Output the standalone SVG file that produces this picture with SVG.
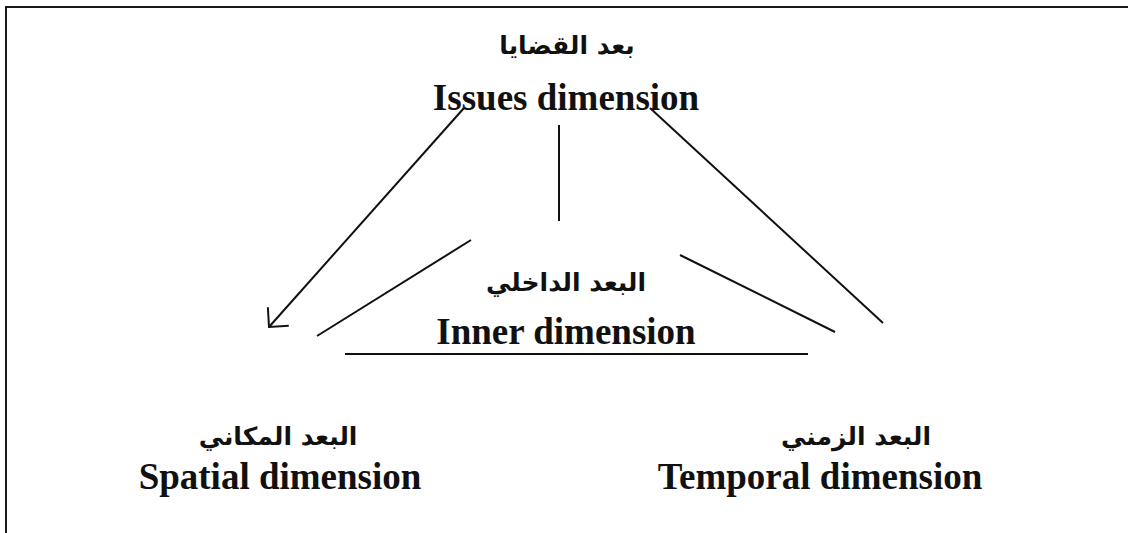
<svg xmlns="http://www.w3.org/2000/svg" width="1128" height="533" viewBox="0 0 1128 533">
<style>
.frame{stroke:#1a1a1a;stroke-width:2;fill:none}
.conn line{stroke:#111;stroke-width:2;fill:none}
.en{font-family:"Liberation Serif","Times New Roman",serif;font-weight:bold;font-size:37px;fill:#111}
.ar{font-family:"DejaVu Sans","Noto Sans",sans-serif;font-weight:bold;font-size:25px;fill:#111}
</style>
<defs>
<marker id="open" markerUnits="userSpaceOnUse" viewBox="0 0 14 28" markerWidth="14" markerHeight="28" refX="14" refY="14" orient="auto" overflow="visible">
<path d="M0,0 L14,14 L0,28" fill="none" stroke="#111" stroke-width="2"/>
</marker>
</defs>
<rect width="1128" height="533" fill="#fff"/>
<g id="frame">
<line class="frame" x1="5" y1="7" x2="1128" y2="7"/>
<line class="frame" x1="6" y1="6" x2="6" y2="533"/>
</g>
<g id="issues">
<text class="ar" x="567" y="54" text-anchor="middle" direction="rtl">بعد القضايا</text>
<text class="en" x="566" y="110" text-anchor="middle">Issues dimension</text>
</g>
<g id="inner">
<text class="ar" x="566" y="291" text-anchor="middle" direction="rtl">البعد الداخلي</text>
<text class="en" x="566" y="344" text-anchor="middle">Inner dimension</text>
</g>
<g id="spatial">
<text class="ar" x="278" y="445" text-anchor="middle" direction="rtl">البعد المكاني</text>
<text class="en" x="280" y="489" text-anchor="middle">Spatial dimension</text>
</g>
<g id="temporal">
<text class="ar" x="856" y="445" text-anchor="middle" direction="rtl">البعد الزمني</text>
<text class="en" x="820" y="489" text-anchor="middle">Temporal dimension</text>
</g>
<g id="connectors" class="conn">
<line x1="464" y1="108" x2="269" y2="327" marker-end="url(#open)"/>
<line x1="559" y1="125" x2="559" y2="221"/>
<line x1="471" y1="240" x2="317" y2="336"/>
<line x1="650" y1="108" x2="883" y2="323"/>
<line x1="680" y1="255" x2="835" y2="332"/>
<line x1="345" y1="354" x2="808" y2="354"/>
</g>
</svg>
